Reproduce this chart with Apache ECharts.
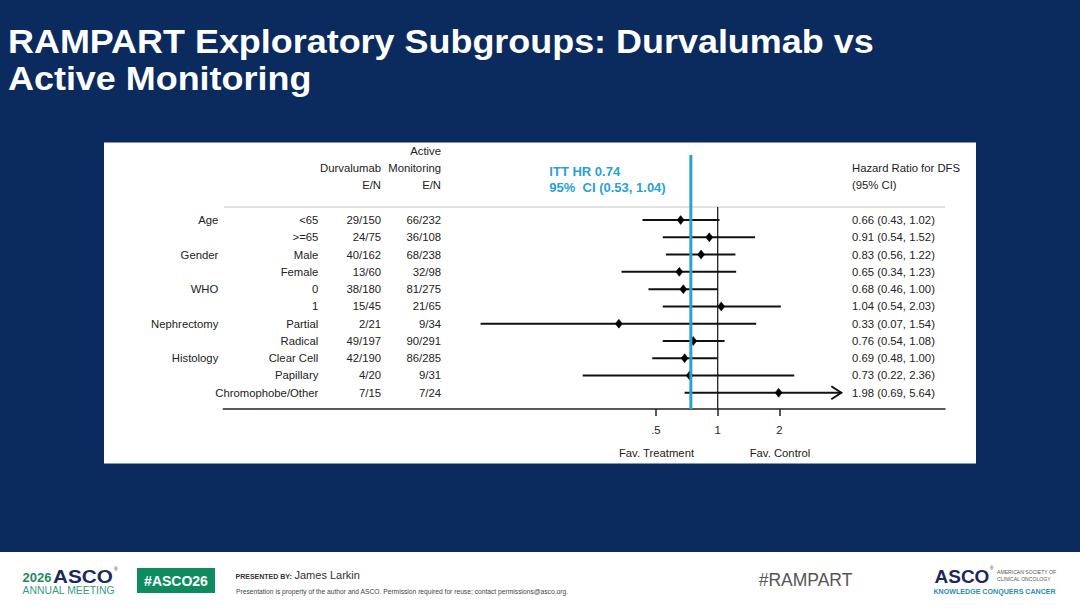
<!DOCTYPE html>
<html>
<head>
<meta charset="utf-8">
<script src="https://cdn.jsdelivr.net/npm/echarts@6/dist/echarts.min.js"></script>
<style>
html,body{margin:0;padding:0;background:#0b2a5e;}
#chart{width:1080px;height:608px;}
</style>
</head>
<body>
<div id="chart"></div>
<script>
// ---------- data ----------
var groups = ['Age', '', 'Gender', '', 'WHO', '', 'Nephrectomy', '', 'Histology', '', ''];
var subgroups = ['<65', '>=65', 'Male', 'Female', '0', '1', 'Partial', 'Radical', 'Clear Cell', 'Papillary', 'Chromophobe/Other'];
var durvaEN = ['29/150', '24/75', '40/162', '13/60', '38/180', '15/45', '2/21', '49/197', '42/190', '4/20', '7/15'];
var activeEN = ['66/232', '36/108', '68/238', '32/98', '81/275', '21/65', '9/34', '90/291', '86/285', '9/31', '7/24'];
var hrValues = [0.66, 0.91, 0.83, 0.65, 0.68, 1.04, 0.33, 0.76, 0.69, 0.73, 1.98];
var ciLower = [0.43, 0.54, 0.56, 0.34, 0.46, 0.54, 0.07, 0.54, 0.48, 0.22, 0.69];
var ciUpper = [1.02, 1.52, 1.22, 1.23, 1.00, 2.03, 1.54, 1.08, 1.00, 2.36, 5.64];
var ittHR = 0.74, ittLower = 0.53, ittUpper = 1.04;
var nullValue = 1;
var arrowLimit = 4;
var xTickValues = [0.5, 1, 2];
var xTickLabels = ['.5', '1', '2'];

// ---------- derived ----------
var hrLabels = hrValues.map(function (v, i) {
  return v.toFixed(2) + ' (' + ciLower[i].toFixed(2) + ', ' + ciUpper[i].toFixed(2) + ')';
});
var forestData = hrValues.map(function (v, i) { return [v, ciLower[i], ciUpper[i], i]; });

var FONT = '"Liberation Sans", Arial, sans-serif';
var TXT = '#222';
var BLUE = '#27a1d8';

function txt(text, x, y, opt) {
  opt = opt || {};
  var align = opt.align || 'left';
  var el = {
    type: 'text', x: x, y: y, z: opt.z || 10,
    style: {
      text: text,
      fill: opt.fill || TXT,
      font: (opt.weight || 'normal') + ' ' + (opt.size || 11.3) + 'px ' + FONT,
      textAlign: align, align: align,
      textVerticalAlign: 'middle', verticalAlign: 'middle'
    }
  };
  if (opt.scaleX) el.scaleX = opt.scaleX;
  return el;
}

function catAxis(data, position, offset) {
  return {
    type: 'category', data: data, inverse: true, position: position, offset: offset,
    axisLine: { show: false }, axisTick: { show: false }, splitLine: { show: false },
    axisLabel: { interval: 0, margin: 0, fontSize: 11.3, color: TXT, fontFamily: FONT }
  };
}

var chart = echarts.init(document.getElementById('chart'), null, { renderer: 'svg' });

var option = {
  backgroundColor: '#0b2a5e',
  animation: false,
  grid: { left: 223.3, right: 135, top: 211.4, height: 190 },
  xAxis: {
    type: 'log', logBase: 2, min: 1 / 256, max: 12.8, offset: 7.6,
    axisLine: { show: true, lineStyle: { color: '#222', width: 1.5 } },
    axisTick: { show: true, customValues: xTickValues, length: 7, lineStyle: { color: '#222', width: 1.5 } },
    axisLabel: {
      show: true, customValues: xTickValues, margin: 15, fontSize: 11.3, color: TXT, fontFamily: FONT,
      formatter: function (v) {
        for (var i = 0; i < xTickValues.length; i++) {
          if (Math.abs(xTickValues[i] - v) < 1e-6) return xTickLabels[i];
        }
        return '';
      }
    },
    splitLine: { show: false }, minorTick: { show: false }
  },
  yAxis: [
    catAxis(subgroups, 'left', -95),
    catAxis(groups, 'left', 5),
    catAxis(durvaEN, 'left', -157.7),
    catAxis(activeEN, 'left', -217.7),
    catAxis(hrLabels, 'right', -93)
  ],
  series: [
    {
      type: 'custom', name: 'null line', clip: false, z: 2,
      data: [[nullValue, 0]],
      renderItem: function (params, api) {
        var cs = params.coordSys;
        var x = api.coord([api.value(0), 0])[0];
        return { type: 'line', shape: { x1: x, y1: cs.y - 4.5, x2: x, y2: cs.y + cs.height + 7.6 },
          style: { stroke: '#222', lineWidth: 1.3 } };
      }
    },
    {
      type: 'custom', name: 'subgroups', clip: false, z: 3,
      data: forestData,
      encode: { x: [0, 1, 2], y: 3 },
      renderItem: function (params, api) {
        var row = api.value(3);
        var c = api.coord([api.value(0), row]);
        var pL = api.coord([api.value(1), row]);
        var hi = api.value(2);
        var clipped = hi > arrowLimit;
        var pH = api.coord([clipped ? arrowLimit : hi, row]);
        var y = c[1];
        var children = [
          { type: 'line', shape: { x1: pL[0], y1: y, x2: pH[0], y2: y }, style: { stroke: '#111', lineWidth: 2 } },
          { type: 'polygon', shape: { points: [[c[0], y - 4.5], [c[0] + 3.5, y], [c[0], y + 4.5], [c[0] - 3.5, y]] },
            style: { fill: '#000', stroke: '#000', lineWidth: 0.5 } }
        ];
        if (clipped) {
          children.push({ type: 'polyline', shape: { points: [[pH[0] - 10, y - 6.5], [pH[0], y], [pH[0] - 10, y + 6.5]] },
            style: { stroke: '#111', fill: null, lineWidth: 2 } });
        }
        return { type: 'group', children: children };
      }
    },
    {
      type: 'custom', name: 'ITT', clip: false, z: 5,
      data: [[ittHR, ittLower, ittUpper]],
      renderItem: function (params, api) {
        var cs = params.coordSys;
        var x = api.coord([api.value(0), 0])[0];
        var f = 'bold 13px ' + FONT;
        return { type: 'group', children: [
          { type: 'line', shape: { x1: x, y1: cs.y - 56.5, x2: x, y2: cs.y + cs.height + 7.6 },
            style: { stroke: BLUE, lineWidth: 3 } },
          { type: 'text', style: { text: 'ITT HR ' + api.value(0).toFixed(2), x: x - 141.5, y: 171,
            fill: BLUE, font: f, align: 'left', verticalAlign: 'middle' } },
          { type: 'text', style: { text: '95%  CI (' + api.value(1).toFixed(2) + ', ' + api.value(2).toFixed(2) + ')',
            x: x - 141.5, y: 187, fill: BLUE, font: f, align: 'left', verticalAlign: 'middle' } }
        ] };
      }
    }
  ],
  graphic: [
    // title
    txt('RAMPART Exploratory Subgroups: Durvalumab vs', 8, 40.5, { fill: '#fff', weight: 'bold', size: 34, scaleX: 1.057 }),
    txt('Active Monitoring', 8, 77.5, { fill: '#fff', weight: 'bold', size: 34, scaleX: 1.057 }),
    // white panel
    { type: 'rect', z: 0, shape: { x: 104, y: 142.5, width: 872, height: 321 }, style: { fill: '#fff' } },
    // header
    txt('Active', 441, 151, { align: 'right' }),
    txt('Durvalumab', 381, 168, { align: 'right' }),
    txt('Monitoring', 441, 168, { align: 'right' }),
    txt('E/N', 381, 185, { align: 'right' }),
    txt('E/N', 441, 185, { align: 'right' }),
    txt('Hazard Ratio for DFS', 852, 168),
    txt('(95% CI)', 852, 185),
    { type: 'line', z: 1, shape: { x1: 224, y1: 207, x2: 945, y2: 207 }, style: { stroke: '#c4c4c4', lineWidth: 1 } },
    txt('Fav. Treatment', 656.5, 453, { align: 'center' }),
    txt('Fav. Control', 780, 453, { align: 'center' }),
    // footer
    { type: 'rect', z: 0, shape: { x: 0, y: 552, width: 1080, height: 56 }, style: { fill: '#fff' } },
    txt('2026', 22.5, 577.5, { fill: '#1e8a5e', weight: 'bold', size: 13 }),
    txt('ASCO', 53, 576, { fill: '#1b2a5a', weight: 'bold', size: 18.5, scaleX: 1.12 }),
    txt('®', 114, 569, { fill: '#1b2a5a', size: 5 }),
    txt('ANNUAL MEETING', 22.5, 590.5, { fill: '#3a9a86', size: 10.4 }),
    { type: 'rect', z: 1, shape: { x: 137, y: 568, width: 78, height: 25 }, style: { fill: '#0f8c5f' } },
    txt('#ASCO26', 176, 580.5, { fill: '#fff', weight: 'bold', size: 14, align: 'center', z: 11 }),
    txt('PRESENTED BY:', 235.5, 576, { fill: '#333', weight: 'bold', size: 7 }),
    txt('James Larkin', 294.5, 575, { fill: '#333', size: 11 }),
    txt('Presentation is property of the author and ASCO. Permission required for reuse; contact permissions@asco.org.', 236, 591, { fill: '#444', size: 6.7 }),
    txt('#RAMPART', 805.5, 580, { fill: '#555', size: 17.5, align: 'center' }),
    txt('ASCO', 934.5, 576, { fill: '#1b2a5a', weight: 'bold', size: 19 }),
    txt('®', 990, 568, { fill: '#1b2a5a', size: 4.5 }),
    txt('AMERICAN SOCIETY OF', 997, 572, { fill: '#555', size: 5.1 }),
    txt('CLINICAL ONCOLOGY', 997, 579, { fill: '#555', size: 5.1 }),
    txt('KNOWLEDGE CONQUERS CANCER', 933.5, 591.5, { fill: '#2a8fb0', weight: 'bold', size: 7.1 })
  ]
};
chart.setOption(option);
</script>
</body>
</html>
